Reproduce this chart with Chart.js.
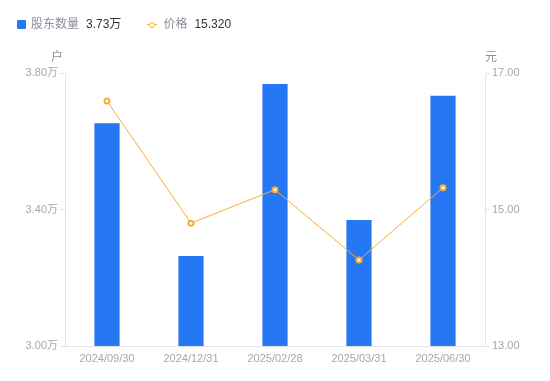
<!DOCTYPE html>
<html><head><meta charset="utf-8">
<script src="https://cdn.jsdelivr.net/npm/chart.js@4.4.0/dist/chart.umd.min.js"></script>
<style>
html,body{margin:0;padding:0;background:#fff;}
#wrap{position:relative;width:550px;height:381px;font-family:Arial,"Liberation Sans","Noto Sans CJK SC",sans-serif;}
#legend{position:absolute;left:17px;top:16px;font-size:12px;line-height:17px;white-space:nowrap;}
#legend span{display:inline-block;vertical-align:middle;}
.lab{color:#8a8f99;}
.val{color:#333;margin-left:7px;}
.sq{width:9px;height:9px;background:#2577f4;border-radius:1px;margin-right:5px;}
.ln{position:relative;width:10px;height:9px;margin-left:26px;margin-right:6px;}
.ln:before{content:"";position:absolute;left:0;right:0;top:4px;height:1px;background:#f9ad2f;}
.ln:after{content:"";position:absolute;left:2px;top:1.5px;width:4px;height:4px;border:1.5px solid #f9ad2f;border-radius:50%;background:#fff;}
canvas{position:absolute;left:0;top:0;}
</style></head>
<body><div id="wrap">
<canvas id="c" width="550" height="381"></canvas>
<div id="legend"><span class="sq"></span><span class="lab">股东数量</span><span class="val">3.73万</span><span class="ln"></span><span class="lab">价格</span><span class="val">15.320</span></div>
</div>
<script>
const categories = ["2024/09/30","2024/12/31","2025/02/28","2025/03/31","2025/06/30"];
const holders = [3.653, 3.264, 3.768, 3.369, 3.733];
const prices = [16.59, 14.80, 15.29, 14.26, 15.32];
const leftTicks = [3.00, 3.40, 3.80];
const rightTicks = [13.00, 15.00, 17.00];

const FONT = 'Arial, "Liberation Sans", "Noto Sans CJK SC", sans-serif';
const tickColor = '#a3a7b3';
const axisColor = '#e3e5ea';

const titlePlugin = {
  id: 'axisTitles',
  afterDraw(chart) {
    const ctx = chart.ctx;
    ctx.save();
    ctx.font = '12px ' + FONT;
    ctx.fillStyle = '#8a8f99';
    ctx.textBaseline = 'middle';
    const yl = chart.scales.y, yr = chart.scales.y1;
    ctx.textAlign = 'center';
    ctx.fillText('户', yl.right - 8, yl.top - 15);
    ctx.fillText('元', yr.left + 6, yr.top - 15);
    ctx.restore();
  }
};

new Chart(document.getElementById('c'), {
  data: {
    labels: categories,
    datasets: [
      {
        type: 'line', label: '价格', data: prices, yAxisID: 'y1',
        borderColor: '#f9ad2f', borderWidth: 1,
        pointBackgroundColor: '#fff', pointBorderColor: '#f9ad2f',
        pointBorderWidth: 2, pointRadius: 2.5, tension: 0, order: 0
      },
      {
        type: 'bar', label: '股东数量', data: holders, yAxisID: 'y',
        backgroundColor: '#2577f4', barPercentage: 0.3, categoryPercentage: 1, order: 1
      }
    ]
  },
  options: {
    responsive: false, animation: false,
    layout: { padding: { top: 73, left: 0, right: 0, bottom: 0 } },
    plugins: { legend: { display: false }, tooltip: { enabled: false } },
    scales: {
      x: {
        grid: { display: false, drawTicks: false },
        border: { color: axisColor },
        ticks: { color: tickColor, font: { size: 11, family: FONT }, padding: 6, maxRotation: 0 },
        afterFit(s) { s.height = 35; }
      },
      y: {
        position: 'left', min: 3.0, max: 3.8,
        afterBuildTicks(s) { s.ticks = leftTicks.map(v => ({ value: v })); },
        grid: { drawOnChartArea: false, tickLength: 5, color: axisColor },
        border: { color: axisColor },
        ticks: { color: tickColor, font: { size: 11, family: FONT }, padding: 2, callback: v => v.toFixed(2) + '万' },
        afterFit(s) { s.width = 65; }
      },
      y1: {
        position: 'right', min: 13, max: 17,
        afterBuildTicks(s) { s.ticks = rightTicks.map(v => ({ value: v })); },
        grid: { drawOnChartArea: false, tickLength: 5, color: axisColor },
        border: { color: axisColor },
        ticks: { color: tickColor, font: { size: 11, family: FONT }, padding: 2, callback: v => v.toFixed(2) },
        afterFit(s) { s.width = 65; }
      }
    }
  },
  plugins: [titlePlugin]
});
</script>
</body></html>
